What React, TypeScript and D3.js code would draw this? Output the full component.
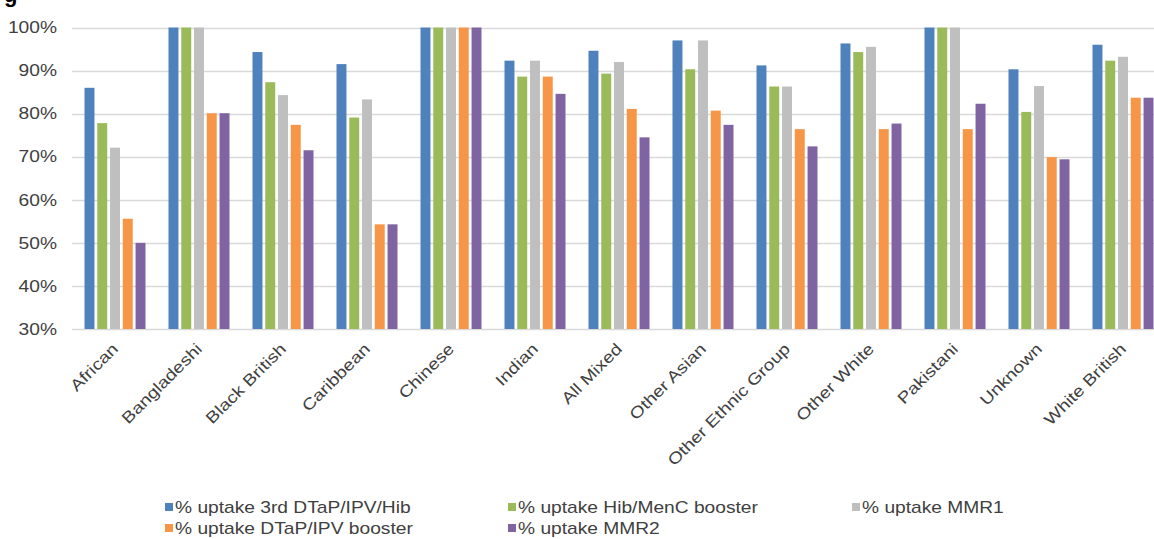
import React from "react";
import * as d3 from "d3";

// Uptake (%) by ethnic group for each vaccine
const categories = [
  "African",
  "Bangladeshi",
  "Black British",
  "Caribbean",
  "Chinese",
  "Indian",
  "All Mixed",
  "Other Asian",
  "Other Ethnic Group",
  "Other White",
  "Pakistani",
  "Unknown",
  "White British",
];

const dtapIpvHib3rd = [86.0, 100, 94.3, 91.5, 100, 92.3, 94.6, 97.0, 91.2, 96.3, 100, 90.3, 96.0];
const hibMenCBooster = [77.8, 100, 87.3, 79.1, 100, 88.6, 89.3, 90.3, 86.3, 94.3, 100, 80.4, 92.3];
const mmr1 = [72.1, 100, 84.3, 83.3, 100, 92.3, 92.0, 97.0, 86.3, 95.5, 100, 86.4, 93.2];
const dtapIpvBooster = [55.6, 80.1, 77.4, 54.3, 100, 88.6, 81.1, 80.7, 76.4, 76.4, 76.4, 69.9, 83.7];
const mmr2 = [50.0, 80.1, 71.5, 54.3, 100, 84.6, 74.5, 77.4, 72.4, 77.7, 82.3, 69.4, 83.7];

const seriesNames = [
  "% uptake 3rd DTaP/IPV/Hib",
  "% uptake Hib/MenC booster",
  "% uptake MMR1",
  "% uptake DTaP/IPV booster",
  "% uptake MMR2",
];
const seriesValues = [dtapIpvHib3rd, hibMenCBooster, mmr1, dtapIpvBooster, mmr2];
const seriesColors = ["#4F81BD", "#9BBB59", "#BFBFBF", "#F79646", "#8064A2"];

const yTicks = [30, 40, 50, 60, 70, 80, 90, 100];

const W = 1154;
const H = 539;
const plotLeft = 72;
const bandStep = 84;
const plotTop = 27.5;
const plotBottom = 329;
const textColor = "#404040";
const fontFamily = "'Liberation Sans', Arial, sans-serif";
const sx = 1.2; // wide rendering of the label font

export default function App() {
  const x0 = d3
    .scaleBand<string>()
    .domain(categories)
    .range([plotLeft, plotLeft + bandStep * categories.length])
    .padding(0);
  const x1 = d3
    .scaleBand<string>()
    .domain(seriesNames)
    .range([12.5, 73.5])
    .paddingInner(0.22)
    .paddingOuter(0);
  const y = d3.scaleLinear().domain([30, 100]).range([plotBottom, plotTop]);

  const legendRows = [
    [0, 1, 2],
    [3, 4],
  ];
  const legendX = [165, 508, 852];
  const legendY = [507, 528];

  return (
    <div style={{ position: "absolute", left: 0, top: 0 }}>
      <svg width={W} height={H} style={{ display: "block", background: "#fff" }}>
        {/* top of the page title, cut off at the edge */}
        <text x={4} y={2} fontFamily={fontFamily} fontSize={22} fontWeight="bold" fill="#000">
          g
        </text>

        {/* gridlines */}
        {yTicks.map((t) => (
          <line
            key={"g" + t}
            x1={plotLeft}
            x2={W}
            y1={Math.round(y(t)) + 0.5}
            y2={Math.round(y(t)) + 0.5}
            stroke="#D9D9D9"
            strokeWidth={1.3}
          />
        ))}

        {/* y tick labels */}
        {yTicks.map((t) => (
          <text
            key={"t" + t}
            transform={`translate(57,${y(t)}) scale(${sx},1)`}
            dy="0.36em"
            textAnchor="end"
            fontFamily={fontFamily}
            fontSize={16}
            fill={textColor}
          >
            {d3.format(".0%")(t / 100)}
          </text>
        ))}

        {/* bars */}
        {categories.map((c, ci) => (
          <g key={c} transform={`translate(${x0(c)},0)`}>
            {seriesNames.map((s, si) => {
              const v = seriesValues[si][ci];
              return (
                <rect
                  key={s}
                  x={x1(s)}
                  y={y(v)}
                  width={x1.bandwidth()}
                  height={y(30) - y(v)}
                  fill={seriesColors[si]}
                />
              );
            })}
          </g>
        ))}

        {/* category labels */}
        {categories.map((c) => {
          const cx = (x0(c) as number) + x0.bandwidth() / 2;
          return (
            <text
              key={"l" + c}
              transform={`translate(${cx + 5},350) rotate(-45) scale(${sx},1)`}
              textAnchor="end"
              fontFamily={fontFamily}
              fontSize={16}
              fill={textColor}
            >
              {c}
            </text>
          );
        })}

        {/* legend */}
        {legendRows.map((row, ri) =>
          row.map((si, k) => (
            <g key={"lg" + si} transform={`translate(${legendX[k]},${legendY[ri]})`}>
              <rect x={0} y={-4} width={8} height={8} fill={seriesColors[si]} />
              <text
                transform={`translate(10,0) scale(${sx},1)`}
                dy="0.36em"
                fontFamily={fontFamily}
                fontSize={16}
                fill={textColor}
              >
                {seriesNames[si]}
              </text>
            </g>
          ))
        )}
      </svg>
    </div>
  );
}
